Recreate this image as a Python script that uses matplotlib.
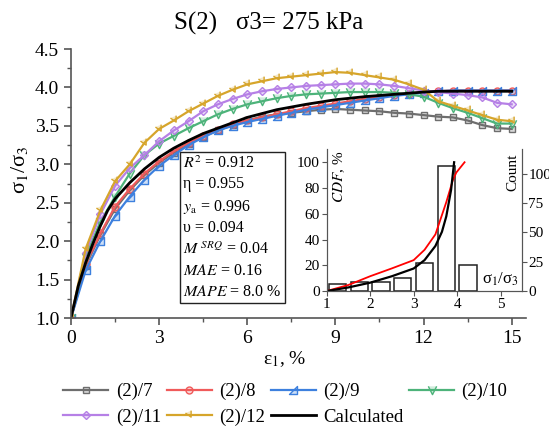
import numpy as np
import matplotlib
matplotlib.use("Agg")
import matplotlib.pyplot as plt
import matplotlib.colors as mcolors
from matplotlib.path import Path

plt.rcParams['font.family'] = ['Liberation Serif', 'DejaVu Serif']
plt.rcParams['mathtext.fontset'] = 'stix'

# strain, %
strain = np.arange(0, 15.01, 0.5)

s7 = [1.00, 1.68, 2.08, 2.42, 2.66, 2.86, 3.02, 3.15, 3.26, 3.36, 3.44, 3.51, 3.57, 3.62, 3.65, 3.67,
      3.69, 3.71, 3.72, 3.71, 3.70, 3.69, 3.67, 3.66, 3.64, 3.62, 3.61, 3.57, 3.51, 3.47, 3.46]
s8 = [1.00, 1.70, 2.10, 2.45, 2.68, 2.88, 3.04, 3.17, 3.28, 3.37, 3.45, 3.52, 3.57, 3.61, 3.65, 3.69,
      3.73, 3.76, 3.79, 3.82, 3.85, 3.88, 3.90, 3.92, 3.94, 3.95, 3.96, 3.96, 3.96, 3.96, 3.96]
s9 = [1.00, 1.62, 2.00, 2.33, 2.58, 2.80, 2.98, 3.12, 3.25, 3.35, 3.44, 3.50, 3.55, 3.59, 3.63, 3.67,
      3.71, 3.74, 3.77, 3.80, 3.83, 3.86, 3.89, 3.91, 3.93, 3.95, 3.96, 3.96, 3.96, 3.96, 3.96]
s10 = [1.00, 1.80, 2.25, 2.58, 2.88, 3.12, 3.27, 3.37, 3.47, 3.56, 3.65, 3.72, 3.78, 3.82, 3.86, 3.89,
       3.91, 3.92, 3.93, 3.94, 3.94, 3.94, 3.93, 3.91, 3.88, 3.80, 3.73, 3.67, 3.60, 3.53, 3.53]
s11 = [1.00, 1.85, 2.35, 2.72, 2.95, 3.12, 3.30, 3.44, 3.56, 3.69, 3.78, 3.85, 3.91, 3.95, 3.98, 4.00,
       4.02, 4.03, 4.04, 4.05, 4.05, 4.04, 4.02, 3.99, 3.96, 3.94, 3.92, 3.90, 3.87, 3.80, 3.78]
s12 = [1.00, 1.90, 2.40, 2.78, 3.00, 3.28, 3.46, 3.57, 3.69, 3.79, 3.89, 3.97, 4.04, 4.08, 4.12, 4.14,
       4.16, 4.18, 4.20, 4.19, 4.16, 4.13, 4.10, 4.04, 3.97, 3.82, 3.76, 3.70, 3.64, 3.58, 3.56]

calc_x = [0, 0.25, 0.5, 0.75, 1.0, 1.25, 1.5, 2.0, 2.5, 3.0, 3.5, 4.0, 4.5, 5.0, 6.0, 7.0, 8.0, 9.0,
          10.0, 11.0, 12.0, 12.5, 13.0, 14.0, 15.0]
calc_y = [1.00, 1.42, 1.72, 1.97, 2.20, 2.40, 2.55, 2.76, 2.94, 3.09, 3.21, 3.31, 3.40, 3.47, 3.61,
          3.71, 3.78, 3.84, 3.88, 3.91, 3.94, 3.95, 3.95, 3.95, 3.95]

labels = ["(2)/7", "(2)/8", "(2)/9", "(2)/10", "(2)/11", "(2)/12"]
colors = ["#6e6e6e", "#f05a5a", "#3d80de", "#4db37a", "#b680e6", "#d6a52b"]

# inset: histogram of sigma1/sigma3 and CDF
bin_centers = [1.25, 1.75, 2.25, 2.75, 3.25, 3.75, 4.25]
counts = [6, 8, 8, 11, 24, 107, 22]
cdf_exp_x = [1.0, 1.5, 2.0, 2.5, 3.0, 3.25, 3.5, 3.56, 3.75, 3.9, 3.98, 4.17]
cdf_exp_y = [0, 4.7, 11.5, 17.6, 24.0, 32.0, 44.0, 50.0, 69.0, 86.0, 92.0, 100.0]
cdf_fit_x = [1.0, 1.5, 2.0, 2.5, 3.0, 3.25, 3.5, 3.65, 3.75, 3.86, 3.93]
cdf_fit_y = [0, 2.8, 6.5, 11.5, 17.5, 24.0, 35.0, 46.0, 58.0, 78.5, 100.0]

stats = ["$R^2$ = 0.912", "\u03b7 = 0.955", "$y_{\\mathrm{a}}$ = 0.996", "\u03c5 = 0.094",
         "$M^{\\ SRQ}$ = 0.04", "$MAE$ = 0.16", "$MAPE$ = 8.0 %"]

# custom markers
tri = Path([(-1, -1), (1, -1), (1, 1), (-1, -1)], [Path.MOVETO, Path.LINETO, Path.LINETO, Path.CLOSEPOLY])
vee = Path([(-1, 1), (0, -1), (1, 1)], [Path.MOVETO, Path.LINETO, Path.LINETO])
hook = Path([(-1, 0.6), (0.4, -0.4), (0.4, 1.2)], [Path.MOVETO, Path.LINETO, Path.LINETO])
markers = ['s', 'o', tri, vee, 'D', hook]
sizes = [5, 5, 6, 6, 4.5, 7]

fig = plt.figure(figsize=(5.49, 4.28), dpi=100)
ax = fig.add_axes([0.1293, 0.257, 0.8295, 0.6285])

series = [s7, s8, s9, s10, s11, s12]
handles = []
for ii in range(len(series)):
    c = colors[ii]
    h, = ax.plot(strain, series[ii], color=c, lw=1.6, marker=markers[ii], ms=sizes[ii],
                 mfc=mcolors.to_rgba(c, 0.25), mec=c, mew=1.0, label=labels[ii])
    handles.append(h)
hc, = ax.plot(calc_x, calc_y, color="black", lw=2.0, label="Calculated")

ax.set_xlim(0, 15.5)
ax.set_ylim(1.0, 4.5)
ax.set_xticks([0, 3, 6, 9, 12, 15])
ax.set_xticks(np.arange(1.5, 15.1, 3), minor=True)
ax.set_yticks(np.arange(1.0, 4.51, 0.5))
ax.set_yticks(np.arange(1.25, 4.5, 0.5), minor=True)
ax.yaxis.set_major_formatter(plt.FormatStrFormatter('%.1f'))
for sp in ['top', 'right']:
    ax.spines[sp].set_visible(False)
for sp in ['left', 'bottom']:
    ax.spines[sp].set_color('#555555')
    ax.spines[sp].set_linewidth(1.2)
ax.tick_params(which='both', direction='out', color='#555555', labelsize=14)
ax.tick_params(which='major', length=5, width=1.2)
ax.tick_params(which='minor', length=3, width=1.0)
ax.set_xlabel("\u03b5$_1$, %", fontsize=14)
ax.xaxis.set_label_coords(0.47, -0.115)
ax.set_ylabel("\u03c3$_1$/\u03c3$_3$", fontsize=16)
ax.yaxis.set_label_coords(-0.09, 0.55)

fig.text(0.49, 0.945, "S(2)   \u03c33= 275 kPa", ha='center', va='center', fontsize=18)

fig.text(0.334, 0.638, "\n".join(stats), ha='left', va='top', fontsize=11.5, linespacing=1.4,
         bbox=dict(boxstyle='square,pad=0.2', fc='white', ec='#222222', lw=1.0))

# legend, row-wise order in 4 columns
order = [handles[0], handles[4], handles[1], handles[5], handles[2], hc, handles[3]]
fig.legend(order, [h.get_label() for h in order], ncol=4, loc='lower center',
           bbox_to_anchor=(0.52, -0.035), frameon=False, fontsize=13.5,
           handlelength=2.4, columnspacing=0.3, handletextpad=0.4, labelspacing=0.45)

# inset
ax_cnt = fig.add_axes([0.595, 0.320, 0.355, 0.331])
ax_in = ax_cnt.twinx()
ax_in.yaxis.tick_left()
ax_in.yaxis.set_label_position('left')
ax_cnt.yaxis.tick_right()
ax_cnt.set_zorder(3)
ax_in.set_zorder(4)
ax_in.patch.set_visible(False)
ax_cnt.set_facecolor('white')

ax_cnt.bar(bin_centers, counts, width=0.4, facecolor='white', edgecolor='#222222', lw=1.1)
ax_in.plot(cdf_exp_x, cdf_exp_y, color='red', lw=1.3)
ax_in.plot(cdf_fit_x, cdf_fit_y, color='black', lw=1.6)

ax_cnt.set_xlim(1, 5.48)
ax_cnt.set_ylim(0, 121)
ax_in.set_ylim(0, 110)
ax_cnt.set_xticks([1, 2, 3, 4, 5])
ax_cnt.set_yticks([0, 25, 50, 75, 100])
ax_in.set_yticks([0, 20, 40, 60, 80, 100])
for a in [ax_cnt, ax_in]:
    a.spines['top'].set_visible(False)
    for sp in ['left', 'right', 'bottom']:
        a.spines[sp].set_color('#555555')
    a.tick_params(direction='out', labelsize=11, length=3.5, color='#555555', pad=1.5)
ax_in.text(0.065, 0.99, "$CDF$, %", transform=ax_in.transAxes, rotation=90, ha='center', va='top', fontsize=11)
ax_in.text(0.955, 0.97, "Count", transform=ax_in.transAxes, rotation=90, ha='center', va='top', fontsize=11)
ax_in.text(4.58, 2, "\u03c3$_1$/\u03c3$_3$", fontsize=12, ha='left', va='bottom')

fig.savefig("out.png", dpi=100)
